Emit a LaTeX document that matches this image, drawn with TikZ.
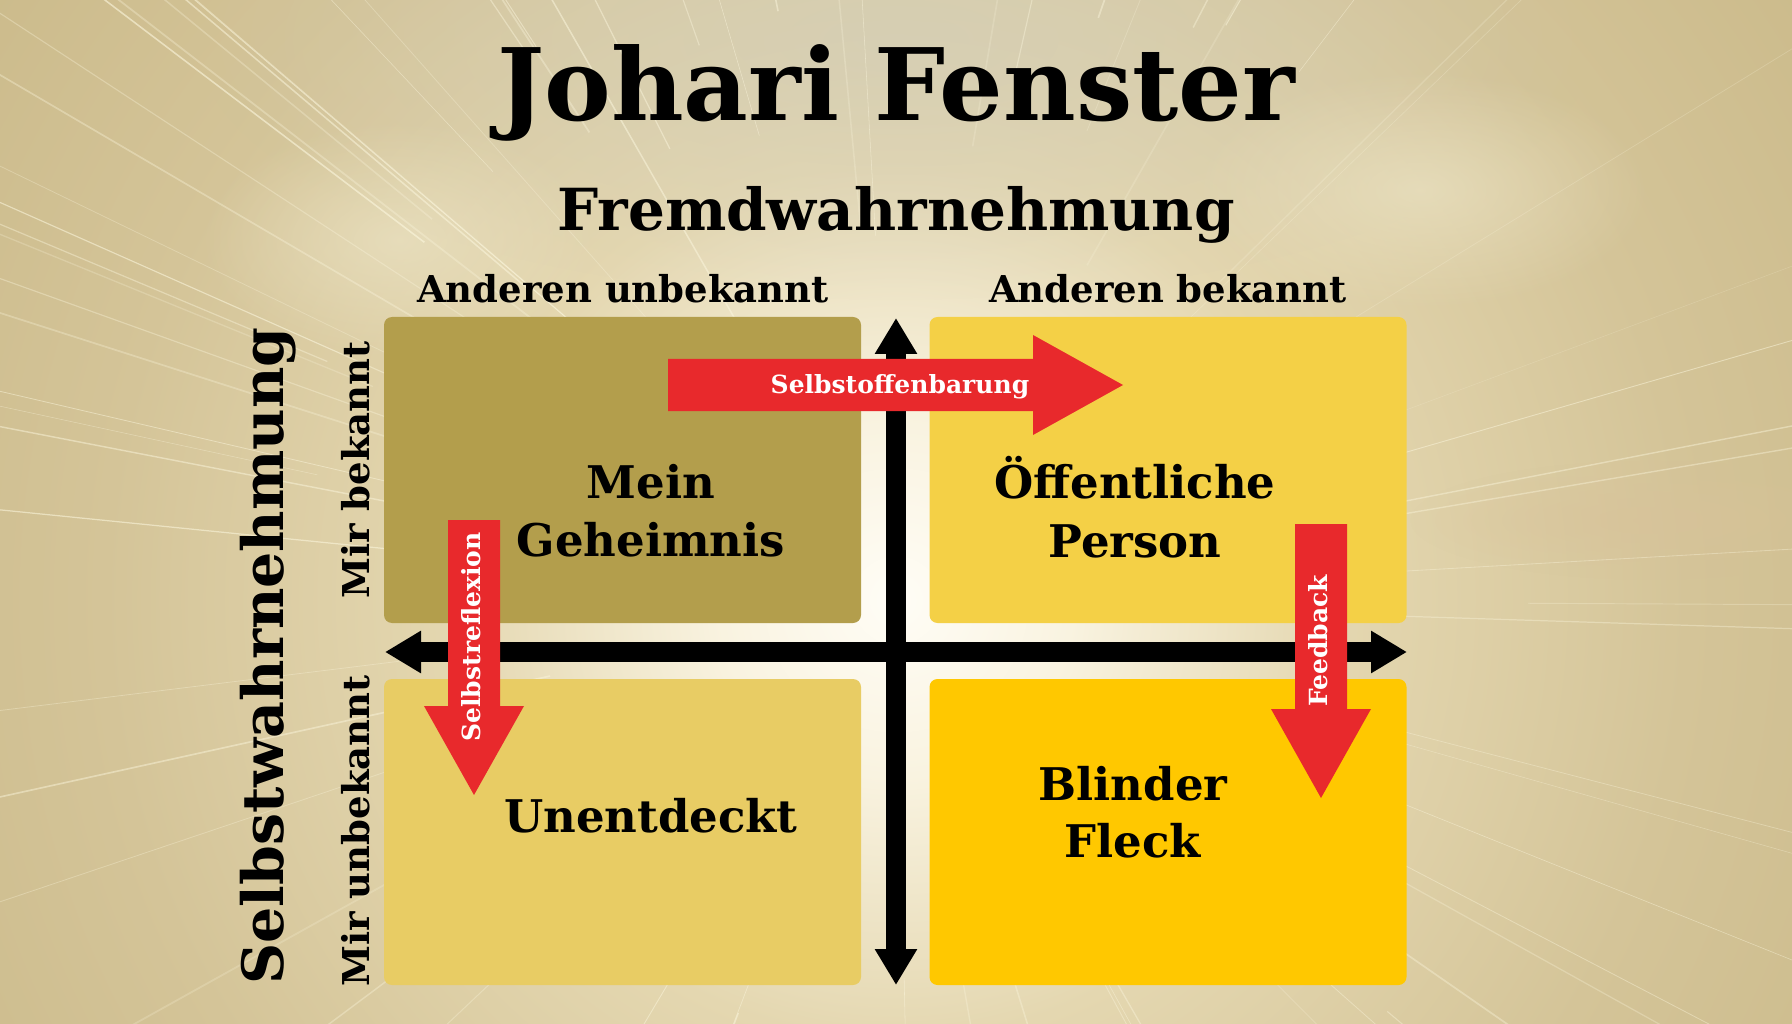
\documentclass[tikz,border=0pt]{standalone}
\usepackage{fontspec}
\setmainfont{DejaVu Serif}
\usetikzlibrary{arrows.meta,fadings}

\definecolor{qtl}{RGB}{179,158,76}
\definecolor{qtr}{RGB}{244,208,70}
\definecolor{qbl}{RGB}{232,204,100}
\definecolor{qbr}{RGB}{255,200,0}
\definecolor{redc}{RGB}{232,41,44}
\definecolor{g0}{RGB}{255,253,246}
\definecolor{g1}{RGB}{249,243,224}
\definecolor{g2}{RGB}{228,215,176}
\definecolor{g3}{RGB}{212,196,152}
\definecolor{g4}{RGB}{200,183,134}
\definecolor{g5}{RGB}{188,170,116}
\definecolor{raycol}{RGB}{252,247,222}
\definecolor{cloudlight}{RGB}{236,228,198}
\definecolor{cloudtan}{RGB}{216,194,154}
\definecolor{topgray}{RGB}{210,206,186}

\pgfdeclareradialshading{bgglow}{\pgfpoint{0bp}{0bp}}{color(0bp)=(g0); color(4bp)=(g1); color(10bp)=(g2); color(18bp)=(g3); color(28bp)=(g4); color(50bp)=(g5)}
\tikzfading[name=softblob, inner color=transparent!35, outer color=transparent!100]

\newcommand\fsz[1]{\fontsize{#1}{#1}\selectfont}

\begin{document}
\begin{tikzpicture}[x=1pt,y=-1pt,
  quad/.style={rounded corners=8pt, inner sep=0pt, minimum width=477pt, minimum height=306pt, draw=none},
  qlabel/.style={font=\bfseries\fsz{45}, anchor=base, inner sep=0pt},
  axislabel/.style={font=\bfseries\fsz{37}, anchor=base, inner sep=0pt},
  arrlabel/.style={font=\bfseries\fsz{25}, text=white, anchor=base, inner sep=0pt},
  axisarrow/.style={line width=20pt, {Triangle[width=40pt,length=36pt]}-{Triangle[width=40pt,length=36pt]}},
  redarrow/.style={fill=redc, draw=none}
]
\useasboundingbox (0,0) rectangle (1792,1024);

% ---------- background ----------
\begin{scope}
  \clip (0,0) rectangle (1792,1024);
  \fill[g5] (0,0) rectangle (1792,1024);
  \shade[shading=bgglow] (896,600) circle (1100pt);
  \fill[topgray, path fading=softblob] (896,40) ellipse [x radius=700pt, y radius=260pt];
  \fill[cloudlight, path fading=softblob] (400,240) ellipse [x radius=200pt, y radius=120pt];
  \fill[cloudlight, path fading=softblob] (1420,190) ellipse [x radius=230pt, y radius=120pt];
  \fill[cloudtan, path fading=softblob] (1650,520) ellipse [x radius=240pt, y radius=60pt];
  \pgfmathsetseed{11}
  \foreach \k in {1,...,90}{
    \pgfmathsetmacro{\ang}{rnd*360}
    \pgfmathsetmacro{\rst}{300+rnd*380}
    \pgfmathsetmacro{\lw}{0.5+rnd*1.3}
    \pgfmathsetmacro{\op}{0.2+rnd*0.4}
    \draw[raycol, line width=\lw pt, opacity=\op] (896,600) ++(\ang:\rst) -- ++(\ang:1300);
  }
\end{scope}

% ---------- titles ----------
\node[font=\bfseries\fsz{100}, anchor=base, inner sep=0pt] (title) at (896,121) {Johari Fenster};
\node[font=\bfseries\fsz{58}, anchor=base, inner sep=0pt] (fremd) at (896,231) {Fremdwahrnehmung};
\node[axislabel] (au) at (623,303) {Anderen unbekannt};
\node[axislabel] (ab) at (1168,303) {Anderen bekannt};

\node[font=\bfseries\fsz{57}, anchor=base, inner sep=0pt, rotate=90] (selbst) at (283,656) {Selbstwahrnehmung};
\node[axislabel, rotate=90] (mb) at (369,470) {Mir bekannt};
\node[axislabel, rotate=90] (mu) at (369,831) {Mir unbekannt};

% ---------- quadrants ----------
\node[quad, fill=qtl] (tl) at (622.5,470) {};
\node[quad, fill=qtr] (tr) at (1168,470) {};
\node[quad, fill=qbl] (bl) at (622.5,832) {};
\node[quad, fill=qbr] (br) at (1168,832) {};

\node[qlabel] (tla) at (651,498) {Mein};
\node[qlabel] (tlb) at (651,556) {Geheimnis};
\node[qlabel] (tra) at (1135,498) {Öffentliche};
\node[qlabel] (trb) at (1135,557) {Person};
\node[qlabel] (bla) at (651,832) {Unentdeckt};
\node[qlabel] (bra) at (1133,800) {Blinder};
\node[qlabel] (brb) at (1133,857) {Fleck};

% ---------- axes ----------
\coordinate (vt) at (896,318);
\coordinate (vb) at (896,985);
\coordinate (hl) at (385,652);
\coordinate (hr) at (1407,652);
\draw[axisarrow] (vb) -- (vt);
\draw[axisarrow] (hl) -- (hr);

% ---------- red arrows ----------
\fill[redarrow] (668,359) -- (1033,359) -- (1033,335) -- (1123,385) -- (1033,435) -- (1033,411) -- (668,411) -- cycle;
\node[arrlabel] (so) at (900,394) {Selbstoffenbarung};

\fill[redarrow] (448,520) -- (500,520) -- (500,706) -- (524,706) -- (474,795) -- (424,706) -- (448,706) -- cycle;
\node[arrlabel, rotate=90] (sr) at (480,637) {Selbstreflexion};

\fill[redarrow] (1295,524) -- (1347,524) -- (1347,709) -- (1371,709) -- (1321,798) -- (1271,709) -- (1295,709) -- cycle;
\node[arrlabel, rotate=90] (fb) at (1327,641) {Feedback};
\end{tikzpicture}
\end{document}
